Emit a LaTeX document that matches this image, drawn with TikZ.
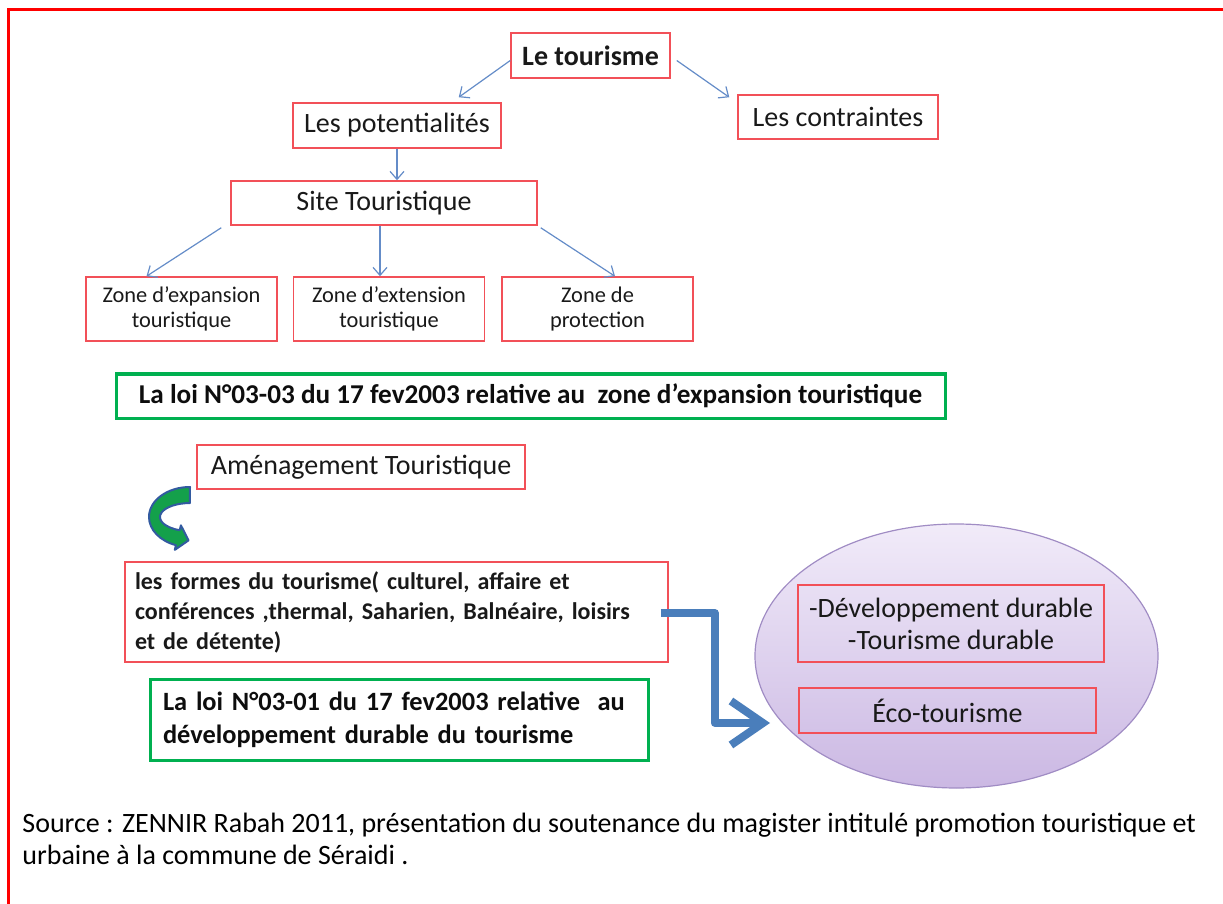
\documentclass[tikz,border=0pt]{standalone}
\usepackage{fontspec}
\setmainfont{Carlito}
\usetikzlibrary{shapes.geometric,arrows.meta}
\definecolor{boxred}{RGB}{242,80,88}
\definecolor{lawgreen}{RGB}{0,176,80}
\definecolor{thinblue}{RGB}{100,140,200}
\definecolor{bigblue}{RGB}{74,126,187}
\definecolor{curvgreen}{RGB}{20,160,75}
\definecolor{curvblue}{RGB}{50,90,160}
\definecolor{elltop}{RGB}{241,235,249}
\definecolor{ellbot}{RGB}{203,184,227}
\definecolor{ellline}{RGB}{160,140,196}
\begin{document}
\begin{tikzpicture}[x=0.5pt,y=-0.5pt,
    redbox/.style={draw=boxred,line width=0.75pt,inner sep=0pt,text=black!90,
      font=\fontsize{14pt}{16pt}\selectfont},
    zonebox/.style={redbox,minimum width=95.5pt,minimum height=32pt,align=center,
      font=\fontsize{11.2pt}{12.5pt}\selectfont},
    lawbox/.style={draw=lawgreen,line width=1.5pt,inner sep=0pt,text=black!95,
      font=\bfseries\fontsize{13.6pt}{16.5pt}\selectfont},
    thinarrow/.style={draw=thinblue,line width=0.6pt,-{Straight Barb[length=4pt,width=7pt]}}]
  \useasboundingbox (0,0) rectangle (1223,904);

  % cadre
  \draw[red,line width=1.5pt] (8,904) -- (8,10) -- (1223,10);

  % haut
  \node[redbox,minimum width=79.5pt,minimum height=22.5pt,font=\bfseries\fontsize{14pt}{16pt}\selectfont] (tour) at (590.5,55.5) {Le tourisme};
  \node[redbox,minimum width=104pt,minimum height=22.5pt] (pot) at (397,125.5) {Les potentialités};
  \node[redbox,minimum width=100pt,minimum height=22pt] (contr) at (838,117) {Les contraintes};
  \node[redbox,minimum width=153pt,minimum height=22pt] (site) at (384,203) {Site Touristique};
  \node[zonebox] (z1) at (181.5,309) {Zone d’expansion\\touristique};
  \node[zonebox] (z2) at (389,309) {Zone d’extension\\touristique};
  \node[zonebox] (z3) at (597.5,309) {Zone de\\protection};

  \path[thinarrow] ([shift={(0,5)}]tour.west) -- ([shift={(-43,-5)}]pot.north east);
  \path[thinarrow] ([shift={(6,5)}]tour.east) -- ([shift={(-8,3)}]contr.north west);
  \path[thinarrow] (pot.south) -- (pot.south |- site.north);
  \path[thinarrow] ([shift={(-9,2)}]site.south west) -- ([shift={(-35,0)}]z1.north);
  \path[thinarrow] ([shift={(-4,0)}]site.south) -- ([shift={(-4,0)}]site.south |- z2.north);
  \path[thinarrow] ([shift={(3,2)}]site.south east) -- ([shift={(17.5,0)}]z3.north);

  % lois et formes
  \node[lawbox,minimum width=414.5pt,minimum height=22pt] (loi1) at (530.5,396)
    {La loi N°03-03 du 17 fev2003 relative au\ \ zone d’expansion touristique};
  \node[redbox,minimum width=164pt,minimum height=22pt] (amen) at (361,467) {Aménagement Touristique};
  \node[redbox,minimum height=50pt,inner xsep=5pt,text width=261.5pt,align=left,
    font=\bfseries\fontsize{12pt}{15pt}\selectfont] (formes) at (396.5,612)
    {les formes du tourisme( culturel, affaire et\\conférences ,thermal, Saharien, Balnéaire, loisirs\\et de détente)};
  \node[lawbox,minimum height=40.5pt,inner xsep=6.5pt,text width=236pt,align=left,
    font=\bfseries\fontsize{13.2pt}{16.5pt}\selectfont] (loi2) at (399,719.5)
    {La loi N°03-01 du 17 fev2003 relative\ \ au\\développement durable du tourisme};

  % fleche courbe
  \filldraw[fill=curvgreen,draw=curvblue,line width=1pt,line join=round]
    (190,487) arc[start angle=270,end angle=110,x radius=41,y radius=30]
    -- (174.8,549.9) -- (188.5,540.4) -- (180.9,525.3) -- (179.7,530.2)
    arc[start angle=110,end angle=270,x radius=30,y radius=14] -- cycle;

  % ellipse
  \node[ellipse,draw=ellline,line width=0.6pt,top color=elltop,bottom color=ellbot,
    minimum width=201.5pt,minimum height=132pt] (ell) at (956.5,656) {};
  \node[redbox,minimum width=153pt,minimum height=38.5pt,align=center] (dur) at (951,623.5)
    {-Développement durable\\-Tourisme durable};
  \node[redbox,minimum width=148.5pt,minimum height=22.5pt] (eco) at (947.5,710.5) {Éco-tourisme};

  % grosse fleche
  \coordinate (tip) at (770,723);
  \draw[bigblue,line width=4pt,line join=round,-{Straight Barb[length=16pt,width=22pt]}]
    ([shift={(-8,1)}]formes.east) -- ++(54,0) |- (tip);

  % source
  \node[anchor=north west,align=left,inner sep=0pt,text=black,
    font=\fontsize{14pt}{16pt}\selectfont] (src) at (22,813)
    {Source : ZENNIR Rabah 2011, présentation du soutenance du magister intitulé promotion touristique et\\urbaine à la commune de Séraidi .};
\end{tikzpicture}
\end{document}
